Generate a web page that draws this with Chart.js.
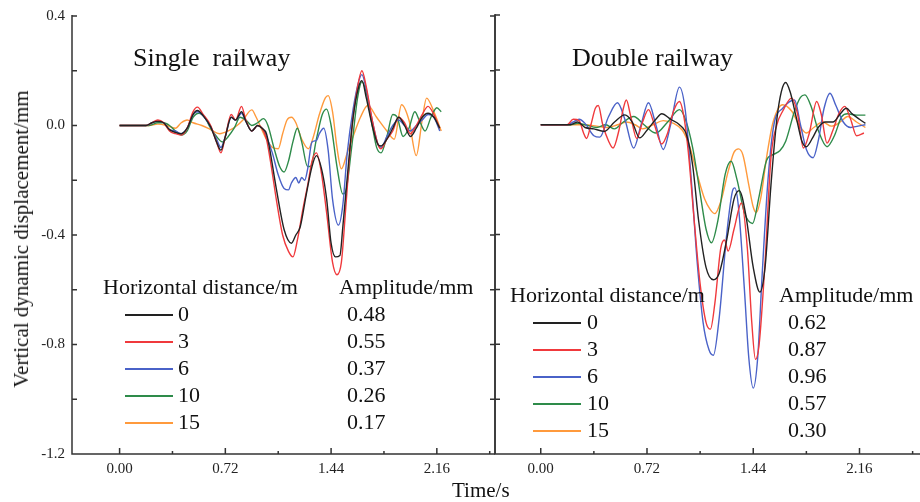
<!DOCTYPE html>
<html>
<head>
<meta charset="utf-8">
<script src="https://cdn.jsdelivr.net/npm/chart.js@4.4.1/dist/chart.umd.min.js"></script>
<style>
  body { margin: 0; background: #fff; }
  #wrap { position: relative; width: 920px; height: 502px; overflow: hidden; font-family: "Liberation Serif", "Times New Roman", serif; color: #111; }
  canvas { position: absolute; top: 0; }
  .txt { position: absolute; white-space: pre; line-height: 1; }
  .seg { position: absolute; height: 2px; }
</style>
</head>
<body>
<div id="wrap">
  <canvas id="singleChart" width="500" height="502" style="left:0"></canvas>
  <canvas id="doubleChart" width="440" height="502" style="left:480px"></canvas>
</div>
<script>
// legend / labels
const distances = ["0", "3", "6", "10", "15"];
const singleAmp = ["0.48", "0.55", "0.37", "0.26", "0.17"];
const doubleAmp = ["0.62", "0.87", "0.96", "0.57", "0.30"];
const colors = ["#222222", "#f0393c", "#4a62c8", "#2e8b4a", "#ff9a3c"];
const timeTicks = [0, 0.36, 0.72, 1.08, 1.44, 1.8, 2.16, 2.52];
const dispTicks = [0.4, 0.2, 0, -0.2, -0.4, -0.6, -0.8, -1.0, -1.2];

// Single railway, [time s, displacement mm]
const single0 = [[0,0],[0.18,0],[0.22,0.01],[0.26,0.015],[0.3,0.01],[0.34,-0.015],[0.38,-0.025],[0.42,-0.03],[0.46,-0.01],[0.5,0.04],[0.53,0.055],[0.57,0.035],[0.62,-0.005],[0.66,-0.06],[0.69,-0.09],[0.72,-0.04],[0.76,0.03],[0.79,0.02],[0.83,0.05],[0.86,0.015],[0.9,-0.02],[0.94,0.0],[0.97,-0.01],[1.0,-0.03],[1.02,-0.08],[1.07,-0.24],[1.12,-0.38],[1.17,-0.43],[1.2,-0.4],[1.23,-0.37],[1.27,-0.255],[1.31,-0.15],[1.34,-0.11],[1.38,-0.17],[1.41,-0.27],[1.44,-0.43],[1.47,-0.48],[1.5,-0.475],[1.52,-0.37],[1.56,-0.13],[1.59,0.03],[1.63,0.145],[1.65,0.164],[1.68,0.1],[1.72,0.0],[1.76,-0.07],[1.78,-0.075],[1.82,-0.05],[1.86,-0.01],[1.9,0.03],[1.94,0.0],[1.98,-0.04],[2.02,-0.01],[2.06,0.03],[2.1,0.045],[2.14,0.03],[2.18,-0.01]];
const single3 = [[0,0],[0.18,0],[0.22,0.01],[0.26,0.02],[0.3,0.01],[0.34,-0.02],[0.38,-0.03],[0.42,-0.035],[0.46,-0.01],[0.5,0.05],[0.53,0.067],[0.57,0.04],[0.62,0.0],[0.66,-0.06],[0.69,-0.1],[0.72,-0.04],[0.76,0.04],[0.79,0.02],[0.83,0.07],[0.86,0.02],[0.9,-0.02],[0.94,0.0],[0.97,-0.01],[1.0,-0.05],[1.03,-0.14],[1.07,-0.28],[1.11,-0.4],[1.15,-0.46],[1.18,-0.48],[1.21,-0.42],[1.25,-0.3],[1.28,-0.22],[1.31,-0.13],[1.34,-0.1],[1.37,-0.16],[1.41,-0.32],[1.45,-0.5],[1.48,-0.545],[1.51,-0.5],[1.54,-0.3],[1.58,-0.02],[1.62,0.14],[1.65,0.2],[1.68,0.14],[1.72,0.02],[1.76,-0.07],[1.78,-0.085],[1.82,-0.05],[1.86,-0.02],[1.9,0.03],[1.94,0.01],[1.98,-0.03],[2.02,0.0],[2.06,0.04],[2.1,0.07],[2.14,0.04],[2.18,-0.01]];
const single6 = [[0,0],[0.18,0],[0.22,0.01],[0.26,0.015],[0.3,0.01],[0.34,-0.015],[0.38,-0.02],[0.42,-0.03],[0.46,-0.01],[0.5,0.04],[0.53,0.05],[0.57,0.035],[0.62,-0.005],[0.66,-0.05],[0.69,-0.08],[0.72,-0.04],[0.76,0.03],[0.79,0.02],[0.83,0.045],[0.86,0.015],[0.9,-0.02],[0.94,0.0],[0.97,-0.01],[1.0,-0.04],[1.04,-0.1],[1.08,-0.18],[1.12,-0.23],[1.15,-0.235],[1.17,-0.21],[1.2,-0.19],[1.22,-0.21],[1.24,-0.19],[1.26,-0.2],[1.28,-0.16],[1.31,-0.06],[1.34,-0.055],[1.36,-0.03],[1.39,-0.01],[1.42,-0.09],[1.45,-0.27],[1.49,-0.364],[1.52,-0.29],[1.55,-0.1],[1.59,0.06],[1.63,0.165],[1.65,0.186],[1.68,0.13],[1.72,0.02],[1.76,-0.07],[1.78,-0.08],[1.82,-0.04],[1.86,0.0],[1.9,0.02],[1.94,0.0],[1.98,-0.02],[2.02,0.0],[2.06,0.02],[2.1,0.04],[2.14,0.03],[2.18,-0.02]];
const single10 = [[0,0],[0.2,0],[0.26,0.01],[0.3,0.01],[0.34,0.0],[0.38,-0.02],[0.42,-0.035],[0.46,-0.02],[0.5,0.03],[0.54,0.045],[0.58,0.03],[0.62,-0.01],[0.66,-0.04],[0.7,-0.06],[0.74,-0.04],[0.78,-0.01],[0.82,0.03],[0.86,0.02],[0.9,0.0],[0.94,0.01],[0.98,0.025],[1.01,0.0],[1.05,-0.08],[1.09,-0.15],[1.12,-0.17],[1.15,-0.13],[1.18,-0.06],[1.21,-0.01],[1.24,-0.06],[1.28,-0.15],[1.3,-0.15],[1.34,-0.05],[1.38,0.04],[1.41,0.06],[1.44,0.0],[1.48,-0.15],[1.52,-0.25],[1.54,-0.24],[1.58,-0.08],[1.62,0.1],[1.65,0.16],[1.68,0.12],[1.72,0.0],[1.75,-0.08],[1.78,-0.1],[1.82,-0.04],[1.86,0.04],[1.89,0.03],[1.93,-0.04],[1.97,-0.01],[2.01,0.05],[2.04,0.02],[2.08,-0.02],[2.12,0.03],[2.16,0.065],[2.19,0.05]];
const single15 = [[0,0],[0.2,0],[0.26,0.005],[0.32,0.0],[0.38,-0.01],[0.42,0.01],[0.46,0.02],[0.5,0.01],[0.56,0.0],[0.62,-0.015],[0.68,-0.03],[0.74,-0.02],[0.8,0.0],[0.84,0.02],[0.9,0.057],[0.93,0.03],[0.96,-0.005],[1.0,-0.05],[1.04,-0.08],[1.08,-0.085],[1.11,-0.03],[1.14,0.02],[1.17,0.03],[1.2,0.01],[1.24,-0.05],[1.285,-0.085],[1.32,-0.04],[1.36,0.04],[1.4,0.1],[1.42,0.109],[1.45,0.05],[1.48,-0.08],[1.51,-0.158],[1.55,-0.1],[1.59,-0.04],[1.64,0.03],[1.69,0.073],[1.75,0.03],[1.82,-0.02],[1.87,-0.05],[1.92,0.076],[1.97,0.02],[2.02,-0.11],[2.06,0.02],[2.09,0.1],[2.14,0.05],[2.19,-0.02]];

// Double railway
const double0 = [[0,0],[0.2,0],[0.25,0.01],[0.3,-0.01],[0.36,-0.015],[0.43,-0.024],[0.5,0.01],[0.57,0.036],[0.62,0.01],[0.67,-0.048],[0.72,-0.02],[0.78,0.02],[0.82,0.04],[0.88,0.02],[0.94,0.0],[0.99,-0.04],[1.03,-0.15],[1.07,-0.35],[1.12,-0.52],[1.17,-0.565],[1.21,-0.54],[1.26,-0.42],[1.31,-0.27],[1.345,-0.24],[1.39,-0.33],[1.44,-0.52],[1.485,-0.61],[1.52,-0.52],[1.56,-0.22],[1.6,0.02],[1.63,0.12],[1.66,0.154],[1.69,0.12],[1.73,0.03],[1.77,-0.06],[1.8,-0.08],[1.84,-0.05],[1.88,-0.01],[1.93,0.01],[1.98,0.01],[2.03,0.04],[2.07,0.06],[2.11,0.04],[2.16,0.02],[2.2,0.005]];
const double3 = [[0,0],[0.18,0],[0.22,0.02],[0.26,0.015],[0.29,-0.03],[0.31,-0.05],[0.34,0.0],[0.37,0.06],[0.39,0.07],[0.42,0.0],[0.46,-0.06],[0.49,-0.085],[0.53,-0.02],[0.56,0.06],[0.58,0.09],[0.61,0.03],[0.65,-0.05],[0.69,0.01],[0.73,0.055],[0.77,0.0],[0.82,-0.07],[0.86,-0.03],[0.9,0.05],[0.94,0.085],[0.97,0.03],[1.0,-0.1],[1.04,-0.35],[1.08,-0.58],[1.12,-0.72],[1.15,-0.745],[1.18,-0.65],[1.22,-0.45],[1.245,-0.42],[1.27,-0.46],[1.31,-0.38],[1.36,-0.285],[1.4,-0.45],[1.43,-0.72],[1.455,-0.855],[1.48,-0.8],[1.52,-0.5],[1.56,-0.12],[1.6,0.0],[1.64,0.05],[1.7,0.097],[1.74,0.04],[1.78,-0.085],[1.82,-0.03],[1.87,0.085],[1.9,0.04],[1.94,-0.067],[1.98,-0.02],[2.02,0.04],[2.06,0.067],[2.1,0.02],[2.14,-0.04],[2.19,-0.03]];
const double6 = [[0,0],[0.18,0],[0.22,0.01],[0.26,0.02],[0.3,0.005],[0.36,-0.04],[0.4,-0.045],[0.46,0.03],[0.52,0.08],[0.57,0.02],[0.63,-0.085],[0.68,0.0],[0.73,0.08],[0.78,0.0],[0.83,-0.09],[0.88,0.0],[0.94,0.137],[0.98,0.05],[1.02,-0.2],[1.06,-0.5],[1.1,-0.72],[1.14,-0.82],[1.17,-0.84],[1.21,-0.7],[1.26,-0.4],[1.3,-0.24],[1.315,-0.23],[1.34,-0.3],[1.38,-0.6],[1.41,-0.85],[1.44,-0.96],[1.47,-0.85],[1.5,-0.55],[1.54,-0.2],[1.58,0.0],[1.64,0.06],[1.72,0.09],[1.76,0.0],[1.8,-0.09],[1.846,-0.12],[1.88,-0.06],[1.92,0.06],[1.96,0.115],[2.0,0.07],[2.05,0.01],[2.1,-0.01],[2.15,-0.005],[2.2,0.0]];
const double10 = [[0,0],[0.2,0],[0.25,0.005],[0.3,0.0],[0.38,-0.01],[0.44,0.0],[0.5,-0.015],[0.56,0.01],[0.63,0.03],[0.7,0.0],[0.78,-0.03],[0.86,0.01],[0.94,0.055],[0.98,0.02],[1.03,-0.085],[1.08,-0.25],[1.12,-0.38],[1.157,-0.43],[1.2,-0.35],[1.25,-0.18],[1.29,-0.133],[1.33,-0.2],[1.38,-0.32],[1.435,-0.36],[1.48,-0.26],[1.53,-0.13],[1.57,-0.11],[1.62,-0.095],[1.66,-0.06],[1.72,0.05],[1.76,0.1],[1.79,0.109],[1.83,0.07],[1.88,-0.02],[1.94,-0.08],[1.99,-0.04],[2.04,0.03],[2.08,0.04],[2.14,0.035],[2.2,0.035]];
const double15 = [[0,0],[0.2,0],[0.3,0.0],[0.38,-0.005],[0.45,-0.01],[0.52,0.0],[0.58,0.01],[0.64,0.0],[0.69,-0.015],[0.76,0.0],[0.83,0.015],[0.9,0.005],[0.96,-0.02],[1.01,-0.08],[1.06,-0.18],[1.11,-0.27],[1.15,-0.31],[1.18,-0.324],[1.22,-0.28],[1.27,-0.17],[1.31,-0.1],[1.34,-0.088],[1.37,-0.11],[1.41,-0.22],[1.44,-0.3],[1.46,-0.32],[1.49,-0.27],[1.53,-0.12],[1.57,0.0],[1.61,0.06],[1.64,0.073],[1.7,0.05],[1.75,0.0],[1.8,-0.03],[1.85,-0.01],[1.91,0.01],[1.97,-0.005],[2.03,0.01],[2.08,0.03],[2.14,0.01],[2.2,-0.01]];

const serif = "'Liberation Serif', 'Times New Roman', serif";
const axisColor = "#333";

function toXY(arr) {
  return arr.map(p => ({ x: p[0], y: p[1] }));
}

function makeSets(list) {
  return list.map((arr, i) => ({
    label: distances[i],
    data: toXY(arr),
    borderColor: colors[i],
    borderWidth: 1.4,
    pointRadius: 0,
    cubicInterpolationMode: "monotone",
    fill: false
  }));
}

// axis lines and inward ticks, drawn from the chart scales
const frame = {
  id: "frame",
  afterDatasetsDraw(chart, args, opts) {
    const ctx = chart.ctx;
    const a = chart.chartArea;
    const xs = chart.scales.x, ys = chart.scales.y;
    ctx.save();
    ctx.strokeStyle = axisColor;
    ctx.lineWidth = 1.5;
    ctx.beginPath();
    ctx.moveTo(a.left, a.top - 1);
    ctx.lineTo(a.left, a.bottom);
    ctx.lineTo(a.right, a.bottom);
    if (opts.rightLine) {
      ctx.moveTo(a.right, a.top - 1);
      ctx.lineTo(a.right, a.bottom);
    }
    ys.ticks.forEach(t => {
      const y = ys.getPixelForValue(t.value);
      ctx.moveTo(a.left, y);
      ctx.lineTo(a.left + 5, y);
      if (opts.rightLine) {
        ctx.moveTo(a.right, y);
        ctx.lineTo(a.right - 5, y);
      }
    });
    xs.ticks.forEach(t => {
      const x = xs.getPixelForValue(t.value);
      const major = Math.round(t.value / 0.36) % 2 === 0;
      ctx.moveTo(x, a.bottom);
      ctx.lineTo(x, a.bottom - (major ? 6 : 3));
    });
    ctx.stroke();
    ctx.restore();
  }
};

function makeChart(id, sets, xMin, xMax, showY, pad) {
  return new Chart(document.getElementById(id), {
    type: "line",
    data: { datasets: sets },
    options: {
      responsive: false,
      animation: false,
      layout: { padding: pad },
      plugins: { legend: { display: false }, tooltip: { enabled: false }, frame: { rightLine: showY } },
      scales: {
        x: {
          type: "linear",
          min: xMin,
          max: xMax,
          grid: { display: false, drawTicks: false },
          border: { display: false },
          afterBuildTicks: s => { s.ticks = timeTicks.map(v => ({ value: v })); },
          ticks: {
            autoSkip: false,
            maxRotation: 0,
            padding: 6,
            color: "#222",
            font: { family: serif, size: 15 },
            callback: v => (Math.round(v / 0.36) % 2 === 0 ? v.toFixed(2) : "")
          },
          afterFit: s => { s.height = 48; }
        },
        y: {
          min: -1.2,
          max: 0.4,
          grid: { display: false, drawTicks: false },
          border: { display: false },
          afterBuildTicks: s => { s.ticks = dispTicks.map(v => ({ value: v })); },
          ticks: {
            display: showY,
            padding: 7,
            color: "#222",
            font: { family: serif, size: 15 },
            callback: v => {
              const r = Math.round(v * 10);
              return r % 4 === 0 ? (r === 0 ? "0.0" : (r / 10).toFixed(1)) : "";
            }
          },
          afterFit: s => { s.width = showY ? 72 : 0; }
        }
      }
    },
    plugins: [frame]
  });
}

makeChart("singleChart", makeSets([single0, single3, single6, single10, single15]), -0.324, 2.556, true,
  { left: 0, right: 5, top: 15, bottom: 0 });
makeChart("doubleChart", makeSets([double0, double3, double6, double10, double15]), -0.31, 2.57, false,
  { left: 15, right: 0, top: 15, bottom: 0 });

// html text
const wrap = document.getElementById("wrap");
function addText(str, left, baseline, size) {
  const d = document.createElement("div");
  d.className = "txt";
  d.textContent = str;
  d.style.left = left + "px";
  d.style.top = (baseline - 0.86 * size) + "px";
  d.style.fontSize = size + "px";
  wrap.appendChild(d);
  return d;
}
function addSeg(color, x1, x2, y) {
  const s = document.createElement("div");
  s.className = "seg";
  s.style.backgroundColor = color;
  s.style.left = x1 + "px";
  s.style.width = (x2 - x1) + "px";
  s.style.top = Math.round(y - 1) + "px";
  wrap.appendChild(s);
}

addText("Single  railway", 133, 67, 26);
addText("Double railway", 572, 67, 26);

function addLegend(amps, x0, lineX1, lineX2, numX, ampHeadX, ampX, headBase, rowBase) {
  addText("Horizontal distance/m", x0, headBase, 22);
  addText("Amplitude/mm", ampHeadX, headBase, 22);
  distances.forEach((d, i) => {
    const b = rowBase + i * 27;
    addSeg(colors[i], lineX1, lineX2, b - 7.5);
    addText(d, numX, b, 22);
    addText(amps[i], ampX, b, 22);
  });
}
addLegend(singleAmp, 103, 125, 173, 178, 339, 347, 295, 322);
addLegend(doubleAmp, 510, 533, 581, 587, 779, 788, 303, 330);

addText("Time/s", 452, 498, 21);
const yt = addText("Vertical dynamic displacement/mm", 0, 0, 21);
yt.style.top = "0px";
yt.style.left = "0px";
yt.style.transformOrigin = "0 0";
const w = yt.getBoundingClientRect().width;
yt.style.transform = "translate(11px," + (239 + w / 2) + "px) rotate(-90deg)";
</script>
</body>
</html>
